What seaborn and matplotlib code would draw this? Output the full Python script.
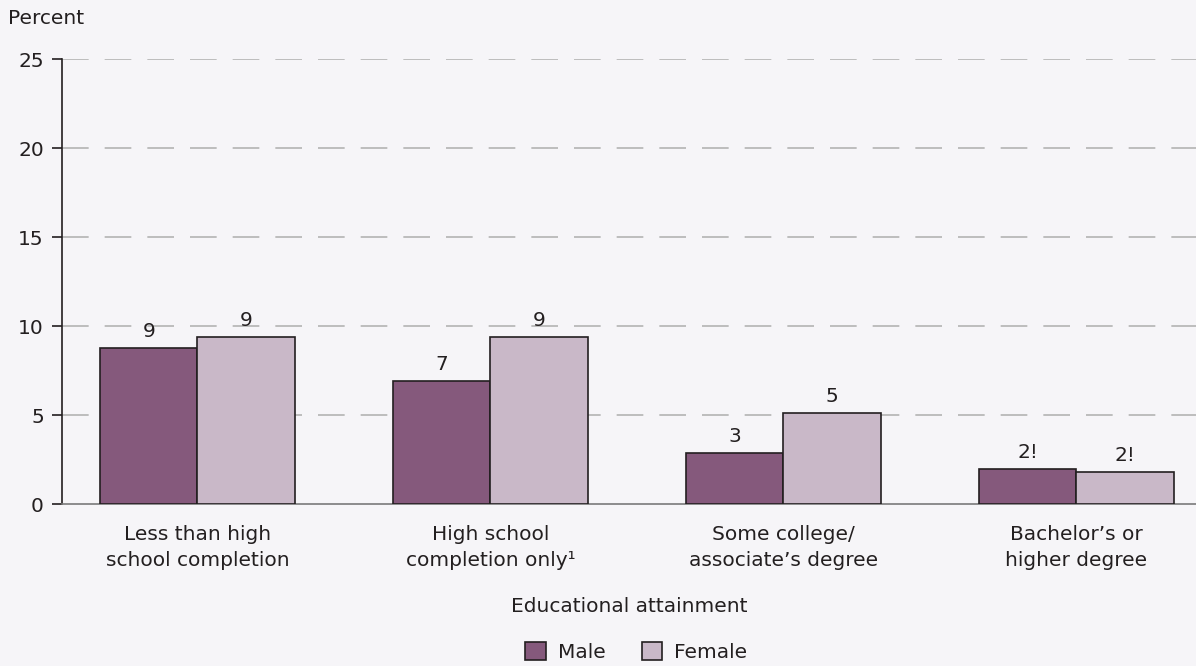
import numpy as np
import pandas as pd
import matplotlib
matplotlib.use("Agg")
import matplotlib.pyplot as plt
from matplotlib.patches import Patch
import seaborn as sns

# Data
categories = ["Less than high\nschool completion",
              "High school\ncompletion only\u00b9",
              "Some college/\nassociate\u2019s degree",
              "Bachelor\u2019s or\nhigher degree"]
male = [8.8, 6.9, 2.9, 2.0]
female = [9.4, 9.4, 5.1, 1.8]
male_labels = ["9", "7", "3", "2!"]
female_labels = ["9", "9", "5", "2!"]
y_ticks = [0, 5, 10, 15, 20, 25]

bg = "#F6F5F8"
ink = "#231F20"
colors = {"Male": "#85597C", "Female": "#C9B8C8"}
fs = 14.5

sns.set_style("white")
plt.rcParams['font.family'] = ['DejaVu Sans']
plt.rcParams['text.color'] = ink

df = pd.DataFrame({
    "category": categories * 2,
    "sex": ["Male"] * 4 + ["Female"] * 4,
    "value": male + female,
})

fig = plt.figure(figsize=(11.96, 6.66), dpi=100, facecolor=bg)
ax = fig.add_axes([0.0518, 0.243, 0.9482, 0.668])
ax.set_facecolor(bg)

sns.barplot(data=df, x="category", y="value", hue="sex", order=categories,
            hue_order=["Male", "Female"], palette=colors, width=0.666,
            edgecolor=ink, linewidth=1.2, saturation=1, ax=ax,
            legend=False, zorder=3)

# Value labels above the bars
for cont, labs in zip(ax.containers, [male_labels, female_labels]):
    ax.bar_label(cont, labels=labs, padding=5, fontsize=fs, color=ink)

ax.set_xlim(-0.4625, 3.408)
ax.set_ylim(0, 25)
ax.set_yticks(y_ticks)
ax.tick_params(axis="y", left=True, labelsize=fs, length=7, width=1.2,
               color=ink, pad=6, labelcolor=ink)
ax.tick_params(axis="x", bottom=False, labelsize=fs, length=0, pad=15,
               labelcolor=ink)
for lab in ax.get_xticklabels():
    lab.set_linespacing(1.5)

# dashed grid lines
for t in y_ticks[1:]:
    ax.axhline(t, color="#B3B3B3", lw=1.2, dashes=(16, 9.6), zorder=1)

for s in ["top", "right"]:
    ax.spines[s].set_visible(False)
ax.spines["left"].set_color(ink)
ax.spines["left"].set_linewidth(1.2)
ax.spines["bottom"].set_color("#7A7A7A")
ax.spines["bottom"].set_linewidth(1.2)

ax.set_ylabel("")
ax.set_xlabel("Educational attainment", fontsize=fs, labelpad=19, color=ink)

fig.text(0.007, 0.972, "Percent", fontsize=fs, ha="left", va="center")

handles = [Patch(facecolor=colors[k], edgecolor=ink, lw=1.2, label=k)
           for k in ["Male", "Female"]]
fig.legend(handles=handles, loc="center", bbox_to_anchor=(0.532, 0.021), ncol=2,
           frameon=False, fontsize=fs, handlelength=1.0, handleheight=1.0,
           columnspacing=1.8, handletextpad=0.6)

fig.savefig("out.png", dpi=100, facecolor=bg)
